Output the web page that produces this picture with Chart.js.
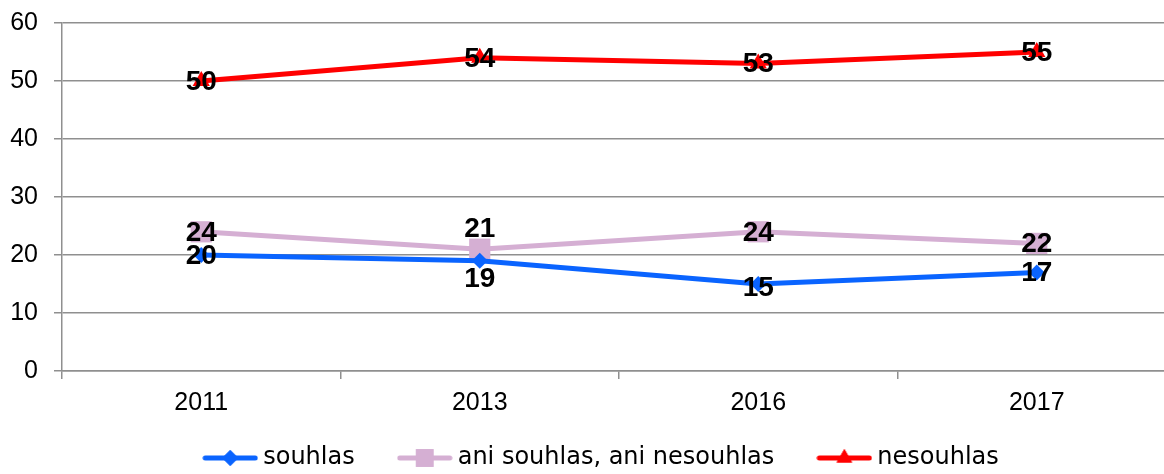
<!DOCTYPE html>
<html lang="cs">
<head>
    <meta charset="UTF-8">
    <title>souhlas / nesouhlas</title>
    <script src="https://cdn.jsdelivr.net/npm/chart.js@4"></script>
    <style>
        body { margin: 0; overflow: hidden; background: #fff; }
    </style>
</head>
<body>
<canvas id="chart" width="1164" height="474"></canvas>
<script>
    var years = ['2011', '2013', '2016', '2017'];
    var souhlas = [20, 19, 15, 17];
    var ani = [24, 21, 24, 22];
    var nesouhlas = [50, 54, 53, 55];

    // vertical nudges for the value labels (only 2013 is pushed apart)
    var shiftSouhlas = [0, 17, 3, 0];
    var shiftAni = [0, -21, 0, 0];
    var shiftNesouhlas = [0, 0, 0, 0];

    var FONT = "'Liberation Sans', Arial, sans-serif";
    var GRID = '#8f8f8f';

    // line+marker picture for the legend
    var legendIcon = function(color, style, r) {
        var c = document.createElement('canvas');
        c.width = 56; c.height = 24;
        var ctx = c.getContext('2d');
        ctx.strokeStyle = color;
        ctx.lineWidth = 5;
        ctx.lineCap = 'round';
        ctx.beginPath();
        ctx.moveTo(3, 12); ctx.lineTo(53, 12);
        ctx.stroke();
        ctx.fillStyle = color;
        Chart.helpers.drawPoint(ctx, {pointStyle: style, radius: r, rotation: 0, borderWidth: 0}, 28, 12);
        ctx.fill();
        return c;
    };

    var series = [
        {label: 'souhlas', data: souhlas, color: '#0a64ff', style: 'rectRot', r: 8, lr: 8, shift: shiftSouhlas},
        {label: 'ani souhlas, ani nesouhlas', data: ani, color: '#d5afd3', style: 'rect', r: 15, lr: 12.5, shift: shiftAni},
        {label: 'nesouhlas', data: nesouhlas, color: '#ff0000', style: 'triangle', r: 10, lr: 9, shift: shiftNesouhlas}
    ];

    var valueLabels = {
        id: 'valueLabels',
        afterDatasetsDraw: function(chart) {
            var ctx = chart.ctx;
            ctx.save();
            ctx.font = 'bold 28px ' + FONT;
            ctx.fillStyle = '#000';
            ctx.textAlign = 'center';
            ctx.textBaseline = 'middle';
            chart.data.datasets.forEach(function(ds, i) {
                var meta = chart.getDatasetMeta(i);
                meta.data.forEach(function(pt, j) {
                    ctx.fillText(String(ds.data[j]), pt.x, pt.y + 1 + ds.shift[j]);
                });
            });
            ctx.restore();
        }
    };

    // fixed legend band height at the bottom
    var legendBand = {
        id: 'legendBand',
        beforeInit: function(chart) {
            var fit = chart.legend.fit;
            chart.legend.fit = function() {
                fit.call(this);
                this.height = 77;
            };
        }
    };

    // the original plot runs a little past the right edge of the picture,
    // and the year labels hang below the short x-axis box
    var stretchPlot = {
        id: 'stretchPlot',
        afterLayout: function(chart) {
            var x = chart.scales.x;
            x.right = chart.width + 12;
            x.width = x.right - x.left;
            x.bottom = chart.height;
            x.configure();
            chart.chartArea.right = x.right;
            chart.chartArea.width = x.right - chart.chartArea.left;
            // legend row sits a bit right of centre
            chart.legend.left += 44;
        }
    };

    var ctx = document.getElementById('chart').getContext('2d');
    var chart = new Chart(ctx, {
        type: 'line',
        data: {
            labels: years,
            datasets: series.map(function(s) {
                return {
                    label: s.label,
                    data: s.data,
                    shift: s.shift,
                    borderColor: s.color,
                    backgroundColor: s.color,
                    borderWidth: 5,
                    pointStyle: s.style,
                    pointRadius: s.r,
                    pointBorderWidth: 0,
                    pointBackgroundColor: s.color,
                    tension: 0,
                    icon: legendIcon(s.color, s.style, s.lr)
                };
            })
        },
        options: {
            responsive: false,
            animation: false,
            layout: {autoPadding: false, padding: {top: 23, right: 0, left: 0, bottom: 0}},
            scales: {
                x: {
                    offset: true,
                    grid: {offset: true, drawOnChartArea: false, drawTicks: true, tickLength: 8, color: GRID, lineWidth: 1.5},
                    border: {color: GRID, width: 1.5},
                    ticks: {color: '#000', font: {family: FONT, size: 25}, padding: 9},
                    afterFit: function(scale) {
                        scale.height = 26;
                        scale.paddingLeft = 0;
                        scale.paddingRight = 0;
                    }
                },
                y: {
                    min: 0, max: 60,
                    grid: {color: GRID, lineWidth: 1.5, tickLength: 8},
                    border: {color: GRID, width: 1.5},
                    ticks: {stepSize: 10, color: '#000', font: {family: FONT, size: 25}, padding: 16},
                    afterFit: function(scale) {
                        scale.width = 62;
                        scale.paddingTop = 0;
                        scale.paddingBottom = 0;
                    }
                }
            },
            plugins: {
                tooltip: {enabled: false},
                legend: {
                    position: 'bottom',
                    labels: {
                        usePointStyle: true,
                        pointStyleWidth: 42,
                        padding: 49,
                        color: '#000',
                        font: {family: "'DejaVu Sans', sans-serif", size: 24},
                        generateLabels: function(chart) {
                            return chart.data.datasets.map(function(ds, i) {
                                return {
                                    text: ds.label,
                                    pointStyle: ds.icon,
                                    fillStyle: ds.borderColor,
                                    strokeStyle: ds.borderColor,
                                    lineWidth: 0,
                                    datasetIndex: i,
                                    hidden: false
                                };
                            });
                        }
                    }
                }
            }
        },
        plugins: [valueLabels, legendBand, stretchPlot]
    });
</script>
</body>
</html>
